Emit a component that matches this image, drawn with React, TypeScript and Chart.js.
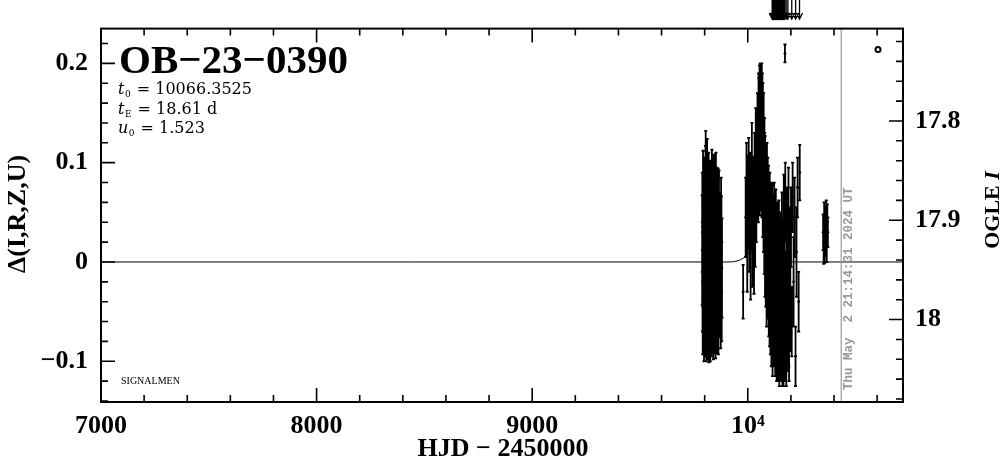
import React, { useEffect, useRef } from 'react';
import { Chart, registerables } from 'chart.js';

Chart.register(...registerables);

// ---------- axis / label data ----------
const xTickValues = [7000, 8000, 9000, 10000];
const xTickLabels = ['7000', '8000', '9000', '10\u2074'];
const xMinorStep = 200;
const yTickValues = [-0.1, 0, 0.1, 0.2];
const yTickLabels = ['\u22120.1', '0', '0.1', '0.2'];
const yMinorStep = 0.02;
const magTickValues = [17.8, 17.9, 18];
const magTickLabels = ['17.8', '17.9', '18'];
const magMinorStep = 0.02;

const eventName = 'OB\u221223\u22120390';
const paramLines: [string, string, string][] = [
  ['t', '0', ' = 10066.3525'],
  ['t', 'E', ' = 18.61 d'],
  ['u', '0', ' = 1.523'],
];
const dateStamp = 'Thu May  2 21:14:31 2024 UT';
const dateHJD = 10433.4;

// ---------- photometry: [HJD-2450000, delta mag, error] ----------
const seasonA: [number, number, number][] = [
  [9788.4, 0.012, 0.055], [9790.1, -0.020, 0.050], [9791.7, 0.035, 0.048], [9793.0, 0.004, 0.060],
  [9794.6, -0.038, 0.045], [9796.2, 0.051, 0.052], [9797.5, 0.018, 0.040], [9799.3, -0.012, 0.058],
  [9800.8, 0.027, 0.047], [9802.1, -0.045, 0.050], [9803.9, 0.062, 0.055], [9804.8, 0.080, 0.052],
  [9805.4, 0.008, 0.044], [9806.8, -0.027, 0.049], [9808.5, 0.041, 0.053], [9810.0, -0.004, 0.062],
  [9811.6, 0.074, 0.050], [9813.2, -0.052, 0.046], [9814.7, 0.020, 0.041], [9816.3, -0.016, 0.055],
  [9817.9, 0.033, 0.060], [9819.4, 0.000, 0.048], [9821.0, -0.035, 0.052], [9822.6, 0.057, 0.045],
  [9824.1, 0.014, 0.058], [9825.8, -0.060, 0.040], [9827.2, 0.045, 0.050], [9828.9, -0.008, 0.054],
  [9830.5, 0.025, 0.046], [9832.0, -0.030, 0.061], [9833.7, 0.069, 0.044], [9835.3, 0.006, 0.052],
  [9836.8, -0.021, 0.048], [9838.4, 0.038, 0.057], [9840.1, -0.048, 0.050], [9841.6, 0.015, 0.043],
  [9843.2, 0.050, 0.055], [9844.9, -0.010, 0.047], [9846.4, 0.028, 0.059], [9848.0, -0.041, 0.051],
  [9849.7, 0.009, 0.045], [9851.3, 0.043, 0.050], [9853.0, -0.025, 0.056], [9854.6, 0.019, 0.042],
  [9856.3, -0.005, 0.053], [9858.0, 0.031, 0.049], [9860.2, -0.033, 0.055], [9862.5, 0.048, 0.046],
  [9865.1, 0.002, 0.052], [9868.0, -0.018, 0.058], [9871.3, 0.026, 0.044], [9874.6, -0.040, 0.047],
  [9877.8, 0.011, 0.055], [9880.4, -0.006, 0.050],
  [9789.2, 0.040, 0.050], [9791.0, -0.045, 0.048], [9792.4, 0.060, 0.052], [9795.3, -0.005, 0.058],
  [9797.0, -0.055, 0.045], [9798.4, 0.055, 0.050], [9801.5, 0.000, 0.056], [9803.0, -0.030, 0.052],
  [9806.1, 0.050, 0.048], [9807.6, -0.050, 0.050], [9809.3, 0.020, 0.060], [9812.4, 0.045, 0.052],
  [9815.5, -0.040, 0.050], [9818.6, 0.062, 0.048], [9820.2, -0.055, 0.046], [9823.3, -0.015, 0.058],
  [9826.5, 0.030, 0.055], [9829.7, 0.055, 0.047], [9831.2, -0.050, 0.045], [9834.5, -0.010, 0.055],
  [9837.6, 0.058, 0.050], [9839.2, -0.035, 0.052], [9842.4, -0.025, 0.058], [9845.6, 0.060, 0.048],
  [9847.2, -0.015, 0.055], [9850.5, -0.050, 0.047], [9852.2, 0.060, 0.050], [9855.5, -0.040, 0.052],
  [9857.1, 0.045, 0.050], [9859.1, 0.000, 0.055], [9861.3, 0.025, 0.050], [9863.8, -0.045, 0.048],
  [9866.5, 0.040, 0.052], [9869.6, 0.010, 0.055], [9872.9, -0.020, 0.052], [9876.2, 0.035, 0.050],
  [9879.1, -0.030, 0.050],
];

const seasonB: [number, number, number][] = [
  [9978.5, -0.030, 0.027], [9990.2, 0.045, 0.040], [9994.0, 0.075, 0.045], [9997.5, 0.020, 0.050],
  [10001.0, 0.060, 0.047], [10004.3, 0.090, 0.035], [10007.1, 0.035, 0.045], [10010.4, 0.070, 0.040],
  [10013.2, 0.010, 0.048], [10016.5, 0.055, 0.042], [10019.0, 0.100, 0.040], [10022.3, 0.030, 0.055],
  [10025.6, 0.068, 0.038], [10028.9, 0.025, 0.057], [10031.5, 0.085, 0.045], [10034.2, 0.045, 0.050],
  [10037.0, 0.110, 0.045], [10039.8, 0.060, 0.040], [10042.5, 0.095, 0.050], [10045.1, 0.130, 0.040],
  [10047.6, 0.120, 0.045], [10049.9, 0.150, 0.040], [10052.1, 0.105, 0.050], [10054.4, 0.160, 0.038],
  [10056.5, 0.135, 0.045], [10058.2, 0.170, 0.030], [10060.0, 0.145, 0.048], [10061.7, 0.165, 0.035],
  [10063.3, 0.120, 0.050], [10065.0, 0.155, 0.045], [10066.8, 0.130, 0.042], [10068.5, 0.110, 0.050],
  [10070.2, 0.140, 0.040], [10072.0, 0.095, 0.045], [10073.8, 0.120, 0.050], [10075.5, 0.080, 0.048],
  [10077.3, 0.100, 0.045], [10079.0, 0.060, 0.050], [10080.8, 0.085, 0.042], [10082.6, 0.045, 0.055],
  [10084.5, 0.070, 0.047], [10086.3, 0.030, 0.050], [10088.1, 0.055, 0.045], [10090.0, 0.015, 0.055],
  [10091.8, 0.040, 0.048], [10093.7, -0.005, 0.052], [10095.5, 0.025, 0.050], [10097.4, -0.020, 0.055],
  [10099.2, 0.010, 0.047], [10101.1, -0.035, 0.050], [10103.0, 0.005, 0.052], [10104.8, -0.045, 0.048],
  [10106.7, -0.010, 0.055], [10108.5, 0.035, 0.045], [10110.4, -0.030, 0.050], [10112.3, -0.055, 0.047],
  [10114.1, 0.000, 0.052], [10116.0, -0.040, 0.050], [10117.9, 0.020, 0.048], [10119.8, -0.060, 0.045],
  [10121.6, -0.015, 0.055], [10123.5, -0.050, 0.050], [10125.4, 0.010, 0.052], [10127.3, -0.070, 0.045],
  [10129.2, -0.025, 0.050], [10131.0, -0.045, 0.055], [10132.9, 0.005, 0.050], [10134.8, -0.065, 0.048],
  [10136.7, -0.035, 0.052], [10138.6, -0.075, 0.045], [10140.5, -0.020, 0.050], [10142.4, -0.055, 0.055],
  [10144.3, 0.015, 0.047], [10146.2, -0.080, 0.045], [10148.1, -0.040, 0.050], [10150.0, -0.060, 0.052],
  [10152.0, -0.010, 0.055], [10154.0, -0.070, 0.048], [10156.1, -0.045, 0.050], [10158.2, 0.025, 0.045],
  [10160.4, -0.085, 0.040], [10162.5, -0.030, 0.052], [10164.7, -0.055, 0.050], [10167.0, 0.040, 0.048],
  [10169.3, -0.075, 0.045], [10171.6, -0.020, 0.050], [10172.5, 0.210, 0.009], [10174.0, 0.060, 0.040],
  [10176.4, -0.050, 0.052], [10178.8, -0.095, 0.030], [10181.3, 0.020, 0.055], [10183.8, -0.065, 0.045],
  [10186.4, -0.030, 0.050], [10189.0, 0.050, 0.045], [10191.7, -0.080, 0.040], [10194.5, 0.005, 0.050],
  [10197.4, -0.045, 0.045], [10200.5, 0.035, 0.040], [10204.0, -0.060, 0.035], [10208.0, 0.065, 0.035],
  [10212.5, -0.020, 0.045], [10217.0, 0.045, 0.040], [10221.5, -0.095, 0.030], [10226.0, 0.010, 0.045],
  [10231.0, 0.075, 0.030], [10236.0, -0.040, 0.030], [10241.0, 0.090, 0.028],
  [10048.7, 0.090, 0.050], [10051.0, 0.140, 0.045], [10053.3, 0.125, 0.050], [10055.5, 0.095, 0.048],
  [10057.4, 0.150, 0.045], [10059.1, 0.110, 0.050], [10060.9, 0.175, 0.025], [10062.5, 0.100, 0.048],
  [10064.1, 0.140, 0.050], [10065.9, 0.090, 0.045], [10067.7, 0.150, 0.040], [10069.4, 0.075, 0.050],
  [10071.1, 0.120, 0.048], [10072.9, 0.060, 0.050], [10074.6, 0.100, 0.045], [10076.4, 0.040, 0.052],
  [10078.1, 0.080, 0.050], [10079.9, 0.020, 0.055], [10081.7, 0.060, 0.048], [10083.5, 0.005, 0.050],
  [10087.2, -0.010, 0.055], [10089.0, 0.080, 0.040], [10092.7, 0.060, 0.045], [10096.4, 0.050, 0.047],
  [10100.1, -0.010, 0.055], [10102.0, 0.045, 0.045], [10105.7, 0.020, 0.050], [10109.4, -0.060, 0.045],
  [10113.2, 0.030, 0.048], [10115.0, -0.075, 0.040], [10118.8, -0.030, 0.055], [10122.5, 0.035, 0.045],
  [10126.3, -0.040, 0.050], [10130.1, 0.025, 0.048], [10133.8, -0.085, 0.035], [10137.6, 0.010, 0.050],
  [10141.4, -0.070, 0.045], [10145.2, -0.030, 0.055], [10149.0, -0.090, 0.030], [10153.0, 0.000, 0.050],
  [10157.1, -0.080, 0.040], [10161.4, -0.010, 0.050], [10165.8, -0.095, 0.030], [10170.4, 0.010, 0.048],
  [10175.2, -0.085, 0.035], [10180.0, -0.040, 0.050], [10185.0, 0.030, 0.045], [10190.3, -0.060, 0.045],
];

const seasonC: [number, number, number][] = [
  [10349.5, 0.030, 0.018], [10352.0, 0.020, 0.022], [10354.3, 0.040, 0.020], [10356.8, 0.015, 0.016],
  [10359.0, 0.035, 0.021], [10361.5, 0.025, 0.019], [10364.0, 0.045, 0.017], [10366.4, 0.020, 0.020],
  [10368.9, 0.040, 0.018], [10371.5, 0.030, 0.015],
];

// points brighter than the plot top (drawn as arrows)
const offTopHJD = [10113, 10116, 10120, 10124, 10127, 10131, 10134, 10138, 10142, 10146, 10151,
  10156, 10160, 10165, 10171, 10178, 10186, 10204, 10222, 10240];

// model curve
const modelHJD = [7000, 9900, 9950, 9980, 10000, 10015, 10030, 10045, 10055, 10066, 10077, 10087,
  10102, 10117, 10132, 10152, 10182, 10230, 10720];
const modelDelta = [0, 0, 0.001, 0.004, 0.008, 0.015, 0.03, 0.065, 0.1, 0.131, 0.1, 0.065,
  0.03, 0.015, 0.008, 0.004, 0.001, 0, 0];

const SERIF = '"Liberation Serif", "DejaVu Serif", serif';

const toPts = (arr: [number, number, number][]) => arr.map(([x, y]) => ({ x, y }));
const toErr = (arr: [number, number, number][]) => arr.map((r) => r[2]);

const errorBarPlugin = {
  id: 'errorBars',
  beforeDatasetsDraw(chart: any) {
    const { ctx, chartArea, scales } = chart;
    const x = scales.x, y = scales.y;
    ctx.save();
    ctx.beginPath();
    ctx.rect(chartArea.left, chartArea.top, chartArea.right - chartArea.left, chartArea.bottom - chartArea.top);
    ctx.clip();
    ctx.strokeStyle = '#000';
    ctx.lineWidth = 1.8;
    ctx.beginPath();
    chart.data.datasets.forEach((ds: any) => {
      if (!ds.errors) return;
      ds.data.forEach((p: any, i: number) => {
        const px = x.getPixelForValue(p.x);
        const e = ds.errors[i];
        const y1 = y.getPixelForValue(p.y + e);
        const y2 = y.getPixelForValue(p.y - e);
        ctx.moveTo(px, y1);
        ctx.lineTo(px, y2);
        ctx.moveTo(px - 1.5, y1);
        ctx.lineTo(px + 1.5, y1);
        ctx.moveTo(px - 1.5, y2);
        ctx.lineTo(px + 1.5, y2);
      });
    });
    ctx.stroke();
    ctx.restore();
  },
};

const framePlugin = {
  id: 'frame',
  afterDraw(chart: any) {
    const { ctx, chartArea, scales } = chart;
    const { left, right, top, bottom } = chartArea;
    const x = scales.x, y = scales.y, y2 = scales.y2;
    const MAJ = 14, MIN = 7;
    ctx.save();

    // date marker line
    const dx = x.getPixelForValue(dateHJD);
    ctx.strokeStyle = '#999';
    ctx.lineWidth = 1.2;
    ctx.beginPath();
    ctx.moveTo(dx, top);
    ctx.lineTo(dx, bottom);
    ctx.stroke();

    // date text
    ctx.save();
    ctx.translate(dx + 8, bottom - 12);
    ctx.rotate(-Math.PI / 2);
    ctx.fillStyle = '#999';
    ctx.font = 'bold 12.5px "Liberation Mono", "DejaVu Sans Mono", monospace';
    ctx.textAlign = 'left';
    ctx.textBaseline = 'middle';
    ctx.fillText(dateStamp, 0, 0);
    ctx.restore();

    // frame
    ctx.strokeStyle = '#000';
    ctx.lineWidth = 2;
    ctx.strokeRect(left, top, right - left, bottom - top);

    ctx.lineWidth = 1.6;
    ctx.beginPath();
    // x ticks (bottom + top)
    for (let v = x.min; v <= x.max + 1e-6; v += xMinorStep) {
      const rv = Math.round(v);
      const len = rv % 1000 === 0 ? MAJ : MIN;
      const px = x.getPixelForValue(rv);
      if (px <= left + 0.5 || px >= right - 0.5) continue;
      ctx.moveTo(px, bottom);
      ctx.lineTo(px, bottom - len);
      ctx.moveTo(px, top);
      ctx.lineTo(px, top + len);
    }
    // left y ticks
    const yStart = Math.ceil(y.min / yMinorStep) * yMinorStep;
    for (let v = yStart; v <= y.max + 1e-9; v += yMinorStep) {
      const rv = Math.round(v * 100) / 100;
      const major = Math.abs(rv * 10 - Math.round(rv * 10)) < 1e-6;
      const py = y.getPixelForValue(rv);
      ctx.moveTo(left, py);
      ctx.lineTo(left + (major ? MAJ : MIN), py);
    }
    // right magnitude ticks
    const mStart = Math.ceil(y2.min / magMinorStep) * magMinorStep;
    for (let v = mStart; v <= y2.max + 1e-9; v += magMinorStep) {
      const rv = Math.round(v * 100) / 100;
      const major = Math.abs(rv * 10 - Math.round(rv * 10)) < 1e-6;
      const py = y2.getPixelForValue(rv);
      ctx.moveTo(right, py);
      ctx.lineTo(right - (major ? MAJ : MIN), py);
    }
    ctx.stroke();

    // off-top arrows
    ctx.lineWidth = 1.3;
    ctx.beginPath();
    offTopHJD.forEach((h) => {
      const px = x.getPixelForValue(h);
      ctx.moveTo(px, 0);
      ctx.lineTo(px, 19);
      ctx.moveTo(px - 3, 13);
      ctx.lineTo(px, 19);
      ctx.lineTo(px + 3, 13);
    });
    ctx.stroke();

    // small open circle (OGLE symbol)
    ctx.beginPath();
    ctx.lineWidth = 2;
    ctx.arc(right - 25, top + 21, 2.5, 0, Math.PI * 2);
    ctx.stroke();

    // event name
    ctx.fillStyle = '#000';
    ctx.textAlign = 'left';
    ctx.textBaseline = 'alphabetic';
    ctx.font = `bold 41px ${SERIF}`;
    ctx.fillText(eventName, left + 18, top + 44);

    // parameters
    const baselines = [94, 114, 133];
    paramLines.forEach(([sym, sub, rest], i) => {
      let cx = left + 17;
      const by = baselines[i];
      ctx.font = 'italic 16px "DejaVu Serif", serif';
      ctx.fillText(sym, cx, by);
      cx += ctx.measureText(sym).width + 0.5;
      ctx.font = '9px "DejaVu Serif", serif';
      ctx.fillText(sub, cx, by + 3);
      cx += ctx.measureText(sub).width + 1;
      ctx.font = '16px "DejaVu Serif", serif';
      ctx.fillText(rest, cx, by);
    });

    // SIGNALMEN
    ctx.font = `10px ${SERIF}`;
    ctx.fillText('SIGNALMEN', left + 20, bottom - 18);

    // axis titles
    ctx.font = `bold 26px ${SERIF}`;
    ctx.textAlign = 'center';
    ctx.textBaseline = 'middle';
    ctx.fillText('HJD \u2212 2450000', (left + right) / 2 + 1, 449);

    ctx.save();
    ctx.translate(18, 214);
    ctx.rotate(-Math.PI / 2);
    ctx.fillText('\u0394(I,R,Z,U)', 0, 0);
    ctx.restore();

    ctx.save();
    ctx.translate(993, 210);
    ctx.rotate(-Math.PI / 2);
    ctx.font = `bold 22px ${SERIF}`;
    const a = 'OGLE ';
    const b = 'I';
    const wa = ctx.measureText(a).width;
    ctx.font = `italic bold 22px ${SERIF}`;
    const wb = ctx.measureText(b).width;
    ctx.textAlign = 'left';
    ctx.font = `bold 22px ${SERIF}`;
    ctx.fillText(a, -(wa + wb) / 2, 0);
    ctx.font = `italic bold 22px ${SERIF}`;
    ctx.fillText(b, -(wa + wb) / 2 + wa, 0);
    ctx.restore();

    ctx.restore();
  },
};

export default function App() {
  const canvasRef = useRef<HTMLCanvasElement | null>(null);

  useEffect(() => {
    const canvas = canvasRef.current;
    if (!canvas) return;
    const tickFont = { family: SERIF, size: 26, weight: 'bold' as const };
    const chart = new Chart(canvas, {
      type: 'scatter',
      data: {
        datasets: [
          {
            type: 'line',
            label: 'model',
            data: modelHJD.map((h, i) => ({ x: h, y: modelDelta[i] })),
            borderColor: '#000',
            borderWidth: 1,
            pointRadius: 0,
            cubicInterpolationMode: 'monotone',
            fill: false,
            order: 0,
          } as any,
          {
            label: 'season A',
            data: toPts(seasonA),
            errors: toErr(seasonA),
            backgroundColor: '#000',
            borderColor: '#000',
            pointRadius: 1.4,
            pointBorderWidth: 0,
          } as any,
          {
            label: 'season B',
            data: toPts(seasonB),
            errors: toErr(seasonB),
            backgroundColor: '#000',
            borderColor: '#000',
            pointRadius: 1.4,
            pointBorderWidth: 0,
          } as any,
          {
            label: 'season C',
            data: toPts(seasonC),
            errors: toErr(seasonC),
            backgroundColor: '#000',
            borderColor: '#000',
            pointRadius: 1.4,
            pointBorderWidth: 0,
          } as any,
        ],
      },
      options: {
        responsive: false,
        animation: false,
        devicePixelRatio: 1,
        layout: { padding: { top: 26, left: 0, right: 0, bottom: 0 } },
        plugins: { legend: { display: false }, tooltip: { enabled: false } },
        events: [],
        scales: {
          x: {
            type: 'linear',
            position: 'bottom',
            min: 7000,
            max: 10720,
            grid: { display: false, drawTicks: false },
            border: { display: false },
            afterBuildTicks: (s: any) => {
              s.ticks = xTickValues.map((v) => ({ value: v }));
            },
            ticks: {
              callback: (v: any) => {
                const i = xTickValues.indexOf(Number(v));
                return i >= 0 ? xTickLabels[i] : '';
              },
              font: tickFont,
              color: '#000',
              padding: 9,
              maxRotation: 0,
              autoSkip: false,
            },
            afterFit: (s: any) => {
              s.height = 57;
            },
          },
          y: {
            type: 'linear',
            position: 'left',
            min: -0.141,
            max: 0.235,
            grid: { display: false, drawTicks: false },
            border: { display: false },
            afterBuildTicks: (s: any) => {
              s.ticks = yTickValues.map((v) => ({ value: v }));
            },
            ticks: {
              callback: (v: any) => {
                const i = yTickValues.findIndex((t) => Math.abs(t - Number(v)) < 1e-9);
                return i >= 0 ? yTickLabels[i] : '';
              },
              font: tickFont,
              color: '#000',
              padding: 13,
              autoSkip: false,
            },
            afterFit: (s: any) => {
              s.width = 101;
            },
          },
          y2: {
            type: 'linear',
            position: 'right',
            reverse: true,
            min: 17.707,
            max: 18.083,
            grid: { display: false, drawTicks: false },
            border: { display: false },
            afterBuildTicks: (s: any) => {
              s.ticks = magTickValues.map((v) => ({ value: v }));
            },
            ticks: {
              callback: (v: any) => {
                const i = magTickValues.findIndex((t) => Math.abs(t - Number(v)) < 1e-9);
                return i >= 0 ? magTickLabels[i] : '';
              },
              font: tickFont,
              color: '#000',
              padding: 12,
              autoSkip: false,
            },
            afterFit: (s: any) => {
              s.width = 101;
            },
          },
        },
      } as any,
      plugins: [errorBarPlugin, framePlugin],
    });
    return () => chart.destroy();
  }, []);

  return (
    <div style={{ position: 'absolute', left: 0, top: 0, width: 1004, height: 459, background: '#fff' }}>
      <canvas ref={canvasRef} width={1004} height={459} style={{ width: 1004, height: 459, display: 'block' }} />
    </div>
  );
}
